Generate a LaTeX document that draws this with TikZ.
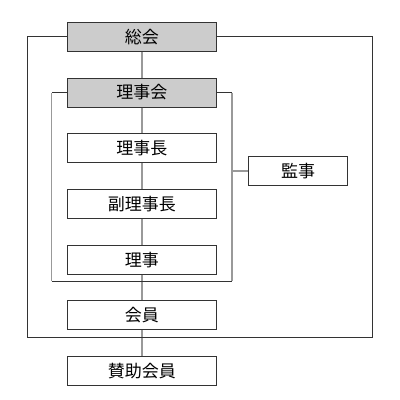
\documentclass[tikz,border=0pt]{standalone}
\usepackage{fontspec}
\setmainfont{Noto Sans CJK JP}
\usetikzlibrary{positioning}
\definecolor{boxline}{HTML}{333333}
\definecolor{boxfill}{HTML}{CCCCCC}
\definecolor{linkgray}{HTML}{999999}
\tikzset{
  post/.style={draw=boxline, fill=white, line width=1pt, minimum width=149pt, minimum height=29pt, inner sep=0pt, font=\fontsize{17}{17}\selectfont},
  board/.style={post, fill=boxfill},
  link/.style={draw=linkgray, line width=1.5pt},
  frame/.style={draw=boxline, line width=1pt},
}

\begin{document}
\begin{tikzpicture}[x=1pt, y=-1pt, node distance=25.7pt]
\useasboundingbox (0,0) rectangle (400,400);
% main column
\node[board] (sokai) at (141.8,36.8) {総会};
\node[board, below=of sokai] (rijikai) {理事会};
\node[post, below=of rijikai] (rijicho) {理事長};
\node[post, below=of rijicho] (fukurijicho) {副理事長};
\node[post, below=of fukurijicho] (riji) {理事};
\node[post, below=of riji] (kaiin) {会員};
\node[post, below=of kaiin] (sanjo) {賛助会員};
\node[post, minimum width=99pt] (kanji) at (298,170.8) {監事};
% column links
\foreach \a/\b in {sokai/rijikai, rijikai/rijicho, rijicho/fukurijicho, fukurijicho/riji, riji/kaiin, kaiin/sanjo}
  \draw[link] (\a.south) -- (\b.north);
% outer frame
\coordinate (outerSW) at (27.3,337.3);
\coordinate (outerNE) at (372.7,36.8);
\draw[frame] (sokai.west) -| (outerSW) -| (outerNE) -- (sokai.east);
% inner frame
\coordinate (innerSW) at (51.7,281);
\coordinate (innerNE) at (rijikai.east -| 232,0);
\draw[frame] (rijikai.west) -- (rijikai.west -| innerSW);
\draw[frame] (rijikai.east) -- (innerNE);
\draw[frame] (innerSW) -- (innerSW -| innerNE);
\draw[link] (innerSW |- innerNE) -- (innerSW);
\draw[link] (innerNE) -- (innerNE |- innerSW);
\draw[link] (kanji.west) -- (kanji.west -| innerNE);
\end{tikzpicture}
\end{document}
